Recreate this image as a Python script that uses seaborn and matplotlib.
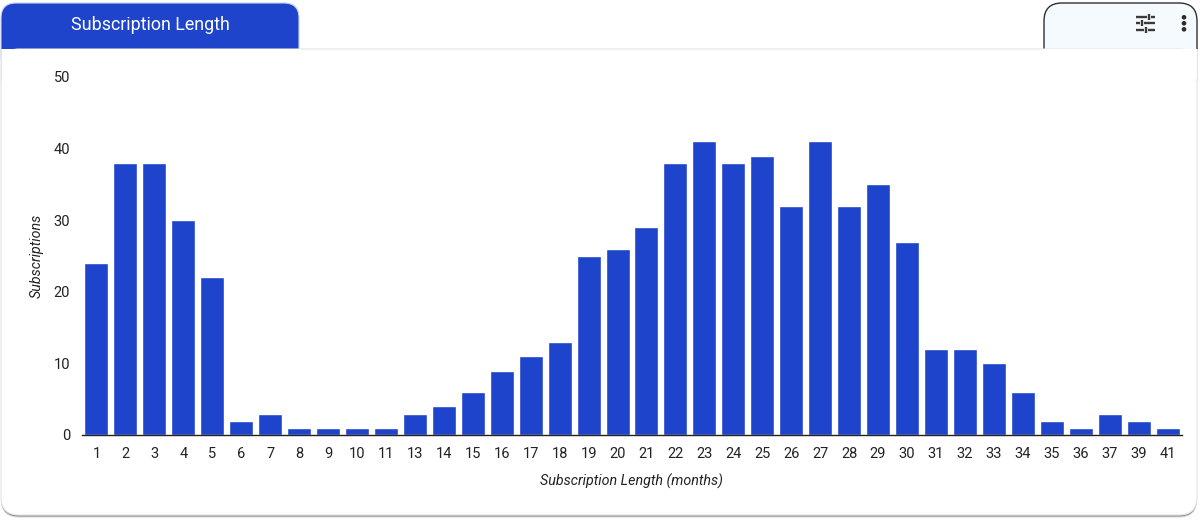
#!/usr/bin/python3

import pandas as pd
import matplotlib
matplotlib.use("Agg")
import matplotlib.pyplot as plt
from matplotlib.patches import FancyBboxPatch, Rectangle, Circle
import seaborn as sns

months = list(range(1, 12)) + list(range(13, 38)) + [39, 41]
subscriptions = [24, 38, 38, 30, 22, 2, 3, 1, 1, 1, 1,
                 3, 4, 6, 9, 11, 13, 25, 26, 29, 38, 41, 38, 39, 32, 41,
                 32, 35, 27, 12, 12, 10, 6, 2, 1, 3, 2, 1]
y_ticks = [0, 10, 20, 30, 40, 50]

BLUE = "#1f44cc"
W, H = 1200, 520

sns.set_theme(style="white")
plt.rcParams['font.family'] = ['Roboto', 'DejaVu Sans']

df = pd.DataFrame({'months': [str(m) for m in months], 'subscriptions': subscriptions})

fig = plt.figure(figsize=(12, 5.2), dpi=100, facecolor='white')

# page furniture lives on a full figure axes measured in pixels
bg = fig.add_axes([0, 0, 1, 1], zorder=0)
bg.set_xlim(0, W)
bg.set_ylim(H, 0)
bg.axis('off')

# right hand tab
bg.add_patch(FancyBboxPatch((1044, 3), 153, 70, boxstyle="round,pad=0,rounding_size=18",
                            fc="#f5faff", ec="#2b2f36", lw=1.0))
# left hand tab
bg.add_patch(FancyBboxPatch((1, 3), 298, 70, boxstyle="round,pad=0,rounding_size=15",
                            fc=BLUE, ec="#c9d2f2", lw=0.8))
bg.text(150, 24.5, "Subscription Length", color="white", fontsize=12.9,
        ha='center', va='center')

# card with a soft shadow, square at the top where the tabs sit
for off, col in [(2.5, "#d4d4d4"), (1.5, "#8f8f8f")]:
    bg.add_patch(FancyBboxPatch((1, 49 + off), 1196, 466, boxstyle="round,pad=0,rounding_size=18",
                                fc=col, ec='none'))
bg.add_patch(FancyBboxPatch((1, 49), 1196, 466, boxstyle="round,pad=0,rounding_size=18",
                            fc="white", ec="#e4e4e4", lw=0.8))
bg.add_patch(Rectangle((1, 49), 1196, 30, fc="white", ec='none'))
bg.plot([300, 1043], [49, 49], color="#f2f2f2", lw=0.8)
bg.plot([1, 1], [49, 80], color="#e4e4e4", lw=0.8)
bg.plot([1197, 1197], [49, 80], color="#e4e4e4", lw=0.8)

# settings icon
ic = "#3a3a3a"
rows = [(17, 1149), (23.3, 1142), (29.5, 1146)]
for y0, kx in rows:
    bg.plot([1136, kx - 2], [y0, y0], color=ic, lw=1.7, solid_capstyle='butt')
    bg.plot([kx + 2, 1155], [y0, y0], color=ic, lw=1.7, solid_capstyle='butt')
    bg.plot([kx, kx], [y0 - 3, y0 + 3], color=ic, lw=1.7, solid_capstyle='butt')
for cy in [17.3, 23.3, 29.3]:
    bg.add_patch(Circle((1184, cy), 2.3, fc="#2b2b2b", ec='none'))

# chart
ax = fig.add_axes([82 / W, 1 - 435 / H, 1100 / W, (435 - 77) / H], zorder=1)
ax.patch.set_alpha(0)
sns.barplot(data=df, x='months', y='subscriptions', order=df['months'], color=BLUE,
            saturation=1, width=0.83, ax=ax)
ax.set_xlim(-0.5, len(months) - 0.5)
ax.set_ylim(0, 50)
ax.set_yticks(y_ticks)

sns.despine(ax=ax, left=True)
ax.spines['bottom'].set_color("#222222")
ax.spines['bottom'].set_linewidth(1.0)
ax.tick_params(axis='both', length=0, labelsize=10.5, labelcolor="#222222")
ax.tick_params(axis='x', pad=8.5)
ax.tick_params(axis='y', pad=8.5)
ax.set_xlabel("Subscription Length (months)", fontsize=10.3, style='italic',
              color="#222222", labelpad=9)
ax.set_ylabel("Subscriptions", fontsize=10.3, style='italic', color="#222222", labelpad=7)

fig.savefig("out.png", dpi=100)
